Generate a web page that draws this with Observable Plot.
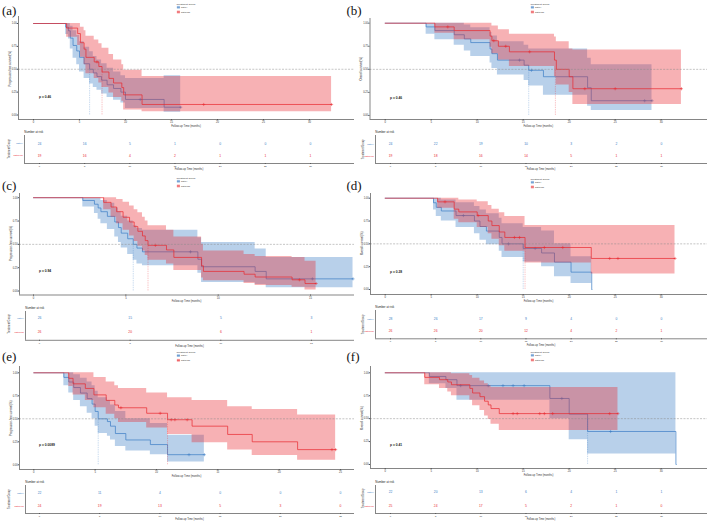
<!DOCTYPE html>
<html><head><meta charset="utf-8">
<script src="https://cdn.jsdelivr.net/npm/d3@7"></script>
<script src="https://cdn.jsdelivr.net/npm/@observablehq/plot@0.6"></script>
<style>
body{margin:0;background:#fff}
#root{position:relative;width:709px;height:522px;overflow:hidden;background:#fff}
#root svg{position:absolute;overflow:visible}
</style>
</head><body><div id="root"></div>
<script>
// ---------- names, ticks ----------
const BN = "satuH", RN = "satuLow";
const ticks30 = [0,5,10,15,20,25,30];
const ticks15 = [0,5,10,15];
const ticks25 = [0,5,10,15,20,25];
const yTicks = [0,0.25,0.5,0.75,1];
const PFS = "Progression-free survival(%)", OS = "Overall survival(%)";
const pvals = ["p = 0.46","p = 0.46","p = 0.94","p = 0.28","p = 0.0089","p = 0.41"];

// ---------- panel (a) ----------
const aBlueT  = [0,3.5,3.8,4.0,4.3,4.7,5.0,5.5,6.1,6.5,6.9,7.4,8.0,8.7,9.5,10.0,14.2,16.0];
const aBlueS  = [1,.96,.92,.84,.76,.70,.63,.56,.50,.46,.42,.38,.33,.29,.25,.17,.085,.085];
const aBlueLo = [1,.88,.83,.72,.62,.55,.47,.40,.34,.30,.27,.23,.19,.16,.13,.07,.03,.03];
const aBlueHi = [1,1,1,.97,.92,.87,.80,.74,.69,.64,.60,.56,.51,.47,.43,.40,.43,.43];
const aBlueC  = [11.6,16.0];
const aRedT  = [0,3.6,4.8,5.1,5.5,5.7,6.6,7.1,7.45,8.2,8.7,9.6,9.8,11.8,32.4];
const aRedS  = [1,.95,.89,.79,.72,.63,.58,.53,.47,.40,.35,.30,.22,.115,.115];
const aRedLo = [1,.85,.76,.63,.55,.45,.40,.35,.30,.24,.19,.15,.054,.036,.036];
const aRedHi = [1,1,1,.96,.92,.86,.82,.78,.73,.66,.60,.55,.49,.42,.42];
const aRedC  = [6.9,18.5,32.4];
const aMed = [6.1,7.45];
const aRiskBlue = [24,16,5,1,0,0,0];
const aRiskRed  = [19,16,4,2,1,1,1];

// ---------- panel (b) ----------
const bBlueT  = [0,4.45,5.4,7.5,8.6,9.3,11.4,11.6,12.2,15.1,15.6,17.2,22.0,22.4,29.0];
const bBlueS  = [1,.96,.92,.875,.83,.79,.72,.67,.60,.545,.49,.42,.30,.16,.16];
const bBlueLo = [1,.88,.82,.76,.70,.64,.57,.51,.44,.38,.32,.22,.10,.054,.054];
const bBlueHi = [1,1,1,1,.98,.95,.90,.86,.80,.76,.72,.72,.62,.55,.55];
const bBlueC  = [14.6,15.9,28.2,29.0];
const bRedT  = [0,5.4,7.5,11.4,11.6,12.3,13.5,18.4,18.6,20.0,20.4,32.2];
const bRedS  = [1,.96,.92,.86,.81,.75,.69,.60,.50,.42,.29,.29];
const bRedLo = [1,.89,.82,.74,.67,.60,.53,.42,.33,.25,.12,.12];
const bRedHi = [1,1,1,1,.97,.93,.88,.85,.80,.72,.71,.71];
const bRedC  = [6.8,11.8,13.1,15.7,21.7,25.0,32.2];
const bMed = [15.6,18.5];
const bRiskBlue = [24,22,19,10,3,2,0];
const bRiskRed  = [19,18,16,14,5,1,1];

// ---------- panel (c) ----------
const cBlueT  = [0,2.67,3.3,3.5,3.65,4.0,4.4,4.6,4.75,5.1,5.4,5.6,5.9,8.9,9.1,12.0,12.6,17.3];
const cBlueS  = [1,.97,.93,.89,.85,.80,.74,.68,.62,.56,.50,.46,.42,.34,.26,.21,.13,.13];
const cBlueLo = [1,.90,.83,.77,.72,.66,.58,.52,.46,.39,.33,.29,.27,.19,.09,.07,.035,.035];
const cBlueHi = [1,1,1,1,.97,.94,.89,.85,.80,.75,.70,.67,.65,.57,.52,.45,.36,.36];
const cBlueC  = [8.5,15.1,17.3];
const cRedT  = [0,3.8,4.2,4.5,4.85,5.2,5.45,5.65,5.9,6.05,6.2,7.2,7.6,9.1,9.2,11.4,12.0,14.0,14.7,15.3];
const cRedS  = [1,.95,.90,.85,.79,.74,.69,.64,.59,.54,.49,.44,.36,.27,.21,.18,.15,.12,.08,.08];
const cRedLo = [1,.87,.79,.72,.65,.59,.53,.48,.43,.38,.33,.29,.22,.14,.11,.08,.06,.04,.01,.01];
const cRedHi = [1,1,1,.98,.95,.91,.87,.84,.79,.75,.70,.65,.58,.50,.43,.39,.37,.36,.32,.32];
const cRedC  = [6.6,14.4,15.3];
const cMed = [5.4,6.2];
const cRiskBlue = [26,15,5,3];
const cRiskRed  = [26,20,6,1];

// ---------- panel (d) ----------
const dBlueT  = [0,5.25,5.55,6.1,7.7,9.7,10.3,11.0,12.4,12.7,15.0,17.0,18.4,20.2,22.45,22.5];
const dBlueS  = [1,.95,.90,.86,.81,.75,.69,.64,.57,.50,.45,.40,.30,.19,0,0];
const dBlueLo = [1,.87,.80,.75,.68,.61,.54,.49,.42,.35,.30,.25,.14,.065,0,0];
const dBlueHi = [1,1,1,.98,.95,.91,.87,.83,.78,.72,.68,.64,.50,.36,0,0];
const dBlueC  = [8.5,13.4,16.3];
const dRedT  = [0,5.7,7.5,8.0,10.0,11.2,11.6,12.4,13.0,15.2,22.4,31.5];
const dRedS  = [1,.96,.88,.85,.81,.75,.70,.63,.57,.46,.34,.34];
const dRedLo = [1,.89,.77,.73,.68,.61,.55,.48,.42,.29,.17,.17];
const dRedHi = [1,1,1,.98,.96,.92,.88,.84,.80,.70,.70,.70];
const dRedC  = [6.5,10.1,14.05,14.6,17.3,19.3,24.4,25.3,31.5];
const dMed = [15.0,15.2];
const dRiskBlue = [28,26,17,9,4,0,0];
const dRiskRed  = [26,26,20,12,4,2,1];

// ---------- panel (e) ----------
const eBlueT  = [0,2.45,2.85,3.25,3.8,4.35,4.75,5.0,5.25,6.0,6.25,6.65,7.5,9.5,10.9,13.9];
const eBlueS  = [1,.95,.90,.84,.78,.72,.66,.58,.50,.47,.42,.34,.27,.22,.11,.11];
const eBlueLo = [1,.86,.78,.70,.63,.56,.50,.42,.34,.31,.27,.20,.15,.11,.03,.03];
const eBlueHi = [1,1,1,.98,.94,.90,.86,.80,.73,.70,.65,.58,.50,.45,.32,.32];
const eBlueC  = [12.65,13.9];
const eRedT  = [0,2.85,3.2,4.2,4.9,5.9,6.6,6.9,9.2,10.9,12.9,15.8,17.8,21.5,24.6];
const eRedS  = [1,.94,.88,.83,.76,.70,.65,.62,.56,.49,.42,.33,.25,.165,.165];
const eRedLo = [1,.85,.76,.70,.62,.55,.50,.46,.40,.33,.24,.16,.10,.05,.05];
const eRedHi = [1,1,1,1,.95,.90,.86,.83,.78,.73,.70,.63,.60,.54,.54];
const eRedC  = [7.1,10.3,11.2,11.5,12.5,24.3,24.6];
const eMed = [5.25,10.9];
const eRiskBlue = [22,11,4,0,0,0];
const eRiskRed  = [24,19,13,5,3,0];

// ---------- panel (f) ----------
const fBlueT  = [0,4.8,6.6,7.8,17.9,20.0,22.0,31.6,31.65];
const fBlueS  = [1,.96,.925,.86,.72,.55,.36,0,0];
const fBlueLo = [1,.88,.83,.70,.50,.27,.115,0,0];
const fBlueHi = [1,1,1,1,1,1,1,0,0];
const fBlueC  = [8.2,11.2,12.8,13.9,15.1,19.2,24.5];
const fRedT  = [0,4.3,5.9,6.8,7.2,9.2,9.5,10.3,10.8,11.2,11.5,12.4,25.3];
const fRedS  = [1,.95,.925,.90,.87,.83,.78,.74,.69,.65,.61,.555,.555];
const fRedLo = [1,.87,.83,.79,.75,.70,.64,.59,.53,.49,.44,.37,.37];
const fRedHi = [1,1,1,1,.99,.97,.94,.91,.88,.86,.84,.84,.84];
const fRedC  = [13.9,14.35,16.8,17.3,18.2,24.4,25.3];
const fMed = [22.0,null];
const fRiskBlue = [22,20,13,6,4,1,1];
const fRiskRed  = [25,24,17,5,2,1,0];

// ---------- styling / layout ----------
const BLUE = "#3B7CC4", RED = "#E8282E";
const FONT = "'Liberation Sans', Arial, Helvetica, sans-serif";
const G = (T,S,Lo,Hi,C) => ({T,S,Lo,Hi,C});

const panels = [
 {lab:"(a)", ox:0, yt:PFS, p:pvals[0], ticks:ticks30, blue:G(aBlueT,aBlueS,aBlueLo,aBlueHi,aBlueC), red:G(aRedT,aRedS,aRedLo,aRedHi,aRedC), med:aMed, rb:aRiskBlue, rr:aRiskRed,
  L:{lab:[2,14.5], leg:[176.5,4], pv:[39,97],
     km:{left:18,right:354,top:16,bottom:119,x0:33,ppm:9.2,y1:23,y0:114.5},
     rk:{left:24,right:354,top:135,bottom:163,t0:39,ppm:9.033,rowB:143,rowR:155}}},
 {lab:"(b)", ox:354, yt:OS, p:pvals[1], ticks:ticks30, blue:G(bBlueT,bBlueS,bBlueLo,bBlueHi,bBlueC), red:G(bRedT,bRedS,bRedLo,bRedHi,bRedC), med:bMed, rb:bRiskBlue, rr:bRiskRed,
  L:{lab:[346.5,14.5], leg:[530.5,4], pv:[390,98],
     km:{left:369.5,right:707,top:18,bottom:119,x0:384.7,ppm:9.2,y1:22.7,y0:115},
     rk:{left:375,right:707,top:135,bottom:163,t0:390,ppm:9.033,rowB:143.3,rowR:155.3}}},
 {lab:"(c)", ox:0, yt:PFS, p:pvals[2], ticks:ticks15, blue:G(cBlueT,cBlueS,cBlueLo,cBlueHi,cBlueC), red:G(cRedT,cRedS,cRedLo,cRedHi,cRedC), med:cMed, rb:cRiskBlue, rr:cRiskRed,
  L:{lab:[2,189.5], leg:[176.5,178], pv:[39,270.7],
     km:{left:19,right:354,top:192.5,bottom:294,x0:33,ppm:18.47,y1:196.7,y0:290},
     rk:{left:25,right:354,top:310.5,bottom:339.3,t0:39,ppm:18.13,rowB:317.3,rowR:330.7}}},
 {lab:"(d)", ox:354, yt:OS, p:pvals[3], ticks:ticks30, blue:G(dBlueT,dBlueS,dBlueLo,dBlueHi,dBlueC), red:G(dRedT,dRedS,dRedLo,dRedHi,dRedC), med:dMed, rb:dRiskBlue, rr:dRiskRed,
  L:{lab:[346.5,189.5], leg:[530.5,179], pv:[390,271.7],
     km:{left:370,right:707,top:193,bottom:294,x0:384.7,ppm:9.2,y1:197.7,y0:289},
     rk:{left:375,right:707,top:310,bottom:338.3,t0:390,ppm:9.033,rowB:318.3,rowR:330.7}}},
 {lab:"(e)", ox:0, yt:PFS, p:pvals[4], ticks:ticks25, blue:G(eBlueT,eBlueS,eBlueLo,eBlueHi,eBlueC), red:G(eRedT,eRedS,eRedLo,eRedHi,eRedC), med:eMed, rb:eRiskBlue, rr:eRiskRed,
  L:{lab:[2,360.5], leg:[176.5,352.3], pv:[39,445],
     km:{left:19,right:354,top:366,bottom:469,x0:33.3,ppm:12.27,y1:372.3,y0:464.3},
     rk:{left:25,right:354,top:485,bottom:513,t0:39,ppm:12.04,rowB:492.7,rowR:505.7}}},
 {lab:"(f)", ox:354, yt:OS, p:pvals[5], ticks:ticks30, blue:G(fBlueT,fBlueS,fBlueLo,fBlueHi,fBlueC), red:G(fRedT,fRedS,fRedLo,fRedHi,fRedC), med:fMed, rb:fRiskBlue, rr:fRiskRed,
  L:{lab:[346.5,360.5], leg:[530.5,352], pv:[390,445],
     km:{left:370,right:707,top:366,bottom:468,x0:384.7,ppm:9.2,y1:372.3,y0:464},
     rk:{left:375,right:707,top:485,bottom:513,t0:390,ppm:9.033,rowB:491.7,rowR:505.3}}}
];

const root = document.getElementById("root");
const baseStyle = {fontFamily: FONT, fontSize: "2.6px", background: "transparent", color: "#333", overflow: "visible"};

function place(el, x, y){ el.style.left = x + "px"; el.style.top = y + "px"; root.appendChild(el); }

function rows(Gr, name){ return Gr.T.map((t,i)=>({t, s:Gr.S[i], lo:Gr.Lo[i], hi:Gr.Hi[i], g:name})); }
function cens(Gr, name){ return Gr.C.map(t=>({t, s:Gr.S[Math.max(0, d3.bisectRight(Gr.T, t)-1)], g:name})); }

const overlay = d3.create("svg").attr("width",709).attr("height",522).style("left","0px").style("top","0px");

for (const P of panels) {
  const K = P.L.km;
  const svgL = P.ox, svgT = K.top - 3, svgW = K.right + 1 - svgL, svgH = K.bottom + 12 - svgT;
  const xd = [(K.left - K.x0)/K.ppm, (K.right - K.x0)/K.ppm];
  const ppu = K.y0 - K.y1;
  const yd = [-(K.bottom - K.y0)/ppu, 1 + (K.y1 - K.top)/ppu];
  const bD = rows(P.blue, BN), rD = rows(P.red, RN);
  const meds = [{t:P.med[0], g:BN}, {t:P.med[1], g:RN}].filter(d => d.t != null);
  const km = Plot.plot({
    width: svgW, height: svgH,
    marginLeft: K.left - svgL, marginRight: svgL + svgW - K.right,
    marginTop: K.top - svgT, marginBottom: svgT + svgH - K.bottom,
    x: {domain: xd}, y: {domain: yd},
    color: {domain: [BN, RN], range: [BLUE, RED]},
    style: baseStyle,
    marks: [
      Plot.areaY(bD, {x:"t", y1:"lo", y2:"hi", curve:"step-after", fill:BLUE, fillOpacity:0.36}),
      Plot.lineY(bD, {x:"t", y:"s", curve:"step-after", stroke:BLUE, strokeWidth:0.7}),
      Plot.dot(cens(P.blue, BN), {x:"t", y:"s", symbol:"plus", r:1.1, stroke:BLUE, strokeWidth:0.5}),
      Plot.areaY(rD, {x:"t", y1:"lo", y2:"hi", curve:"step-after", fill:RED, fillOpacity:0.36}),
      Plot.lineY(rD, {x:"t", y:"s", curve:"step-after", stroke:RED, strokeWidth:0.7}),
      Plot.dot(cens(P.red, RN), {x:"t", y:"s", symbol:"plus", r:1.1, stroke:RED, strokeWidth:0.5}),
      Plot.ruleY([0.5], {stroke:"#8a8a8a", strokeDasharray:"2,1.3", strokeWidth:0.5}),
      Plot.ruleX(meds, {x:"t", y1:0, y2:0.5, stroke:"g", strokeOpacity:0.5, strokeDasharray:"1.4,0.9", strokeWidth:0.55}),
      Plot.ruleX([xd[0]], {stroke:"#333", strokeWidth:0.6}),
      Plot.ruleY([yd[0]], {stroke:"#333", strokeWidth:0.6}),
      Plot.axisX({ticks:P.ticks, tickSize:1.2, tickPadding:0.6, fontSize:2.6, label:null, stroke:"#555"}),
      Plot.axisY({ticks:yTicks, tickFormat:d3.format(".2f"), tickSize:1.2, tickPadding:0.6, fontSize:2.6, label:null, stroke:"#555"})
    ]
  });
  place(km, svgL, svgT);

  // risk table
  const R = P.L.rk;
  const rL = P.ox, rT = R.top - 2, rW = R.right + 1 - rL, rH = R.bottom + 9 - rT;
  const rxd = [(R.left - R.t0)/R.ppm, (R.right - R.t0)/R.ppm];
  const rpu = R.rowR - R.rowB;
  const ryd = [-(R.bottom - R.rowR)/rpu, 1 + (R.rowB - R.top)/rpu];
  const riskRows = P.ticks.flatMap((t,i) => [{t, g:BN, v:1, n:P.rb[i]}, {t, g:RN, v:0, n:P.rr[i]}]);
  const groupRows = [{g:BN, v:1}, {g:RN, v:0}];
  const rk = Plot.plot({
    width: rW, height: rH,
    marginLeft: R.left - rL, marginRight: rL + rW - R.right,
    marginTop: R.top - rT, marginBottom: rT + rH - R.bottom,
    x: {domain: rxd}, y: {domain: ryd, axis: null},
    color: {domain: [BN, RN], range: [BLUE, RED]},
    style: baseStyle,
    marks: [
      Plot.text(riskRows, {x:"t", y:"v", text:d => String(d.n), fill:"g", fontSize:3.3}),
      Plot.text(groupRows, {frameAnchor:"left", y:"v", text:"g", fill:"g", textAnchor:"end", dx:-1.8, fontSize:2.5}),
      Plot.ruleX([rxd[0]], {stroke:"#333", strokeWidth:0.6}),
      Plot.ruleY([ryd[0]], {stroke:"#333", strokeWidth:0.6}),
      Plot.axisX({ticks:P.ticks, tickSize:1.0, tickPadding:0.5, fontSize:2.4, label:null, stroke:"#555"})
    ]
  });
  place(rk, rL, rT);

  // overlay text
  const o = overlay;
  o.append("text").attr("x", P.L.lab[0]).attr("y", P.L.lab[1]).text(P.lab)
    .attr("font-family","'Liberation Serif','Times New Roman',serif").attr("font-size",13).attr("fill","#111");
  const [lx, ly] = P.L.leg;
  o.append("text").attr("x", lx).attr("y", ly).attr("dy","0.35em").text("Treatment Group")
    .attr("font-family",FONT).attr("font-size",2.5).attr("fill","#333");
  [[BN,BLUE,3.3],[RN,RED,8.0]].forEach(([nm,col,dy]) => {
    o.append("rect").attr("x", lx+0.4).attr("y", ly+dy-1.4).attr("width",3).attr("height",2.8)
      .attr("fill",col).attr("fill-opacity",0.45);
    o.append("line").attr("x1", lx+0.4).attr("x2", lx+3.4).attr("y1", ly+dy).attr("y2", ly+dy)
      .attr("stroke",col).attr("stroke-width",0.6);
    o.append("text").attr("x", lx+4.6).attr("y", ly+dy).attr("dy","0.35em").text(nm)
      .attr("font-family",FONT).attr("font-size",2.4).attr("fill","#333");
  });
  // KM axis titles
  o.append("text").attr("x",(K.left+K.right)/2).attr("y",K.bottom+6.6).attr("dy","0.35em")
    .attr("text-anchor","middle").text("Follow-up Time (months)").attr("font-family",FONT).attr("font-size",2.7).attr("fill","#333");
  o.append("text").attr("transform",`translate(${K.left-8.3},${(K.y1+K.y0)/2}) rotate(-90)`).attr("dy","0.35em")
    .attr("text-anchor","middle").text(P.yt).attr("font-family",FONT).attr("font-size",2.8).attr("fill","#333");
  o.append("text").attr("x",P.L.pv[0]).attr("y",P.L.pv[1]).attr("dy","0.35em").text(P.p)
    .attr("font-family",FONT).attr("font-size",3.3).attr("font-weight","bold").attr("fill","#222");
  // risk titles
  o.append("text").attr("x",R.left+0.3).attr("y",R.top-3).attr("dy","0.35em").text("Number at risk")
    .attr("font-family",FONT).attr("font-size",2.9).attr("fill","#222");
  o.append("text").attr("x",(R.left+R.right)/2).attr("y",R.bottom+6.4).attr("dy","0.35em")
    .attr("text-anchor","middle").text("Follow-up Time (months)").attr("font-family",FONT).attr("font-size",2.6).attr("fill","#333");
  o.append("text").attr("transform",`translate(${P.ox+9.3},${(R.rowB+R.rowR)/2}) rotate(-90)`).attr("dy","0.35em")
    .attr("text-anchor","middle").text("Treatment Group").attr("font-family",FONT).attr("font-size",2.6).attr("fill","#333");
}
root.appendChild(overlay.node());
</script>
</body></html>
